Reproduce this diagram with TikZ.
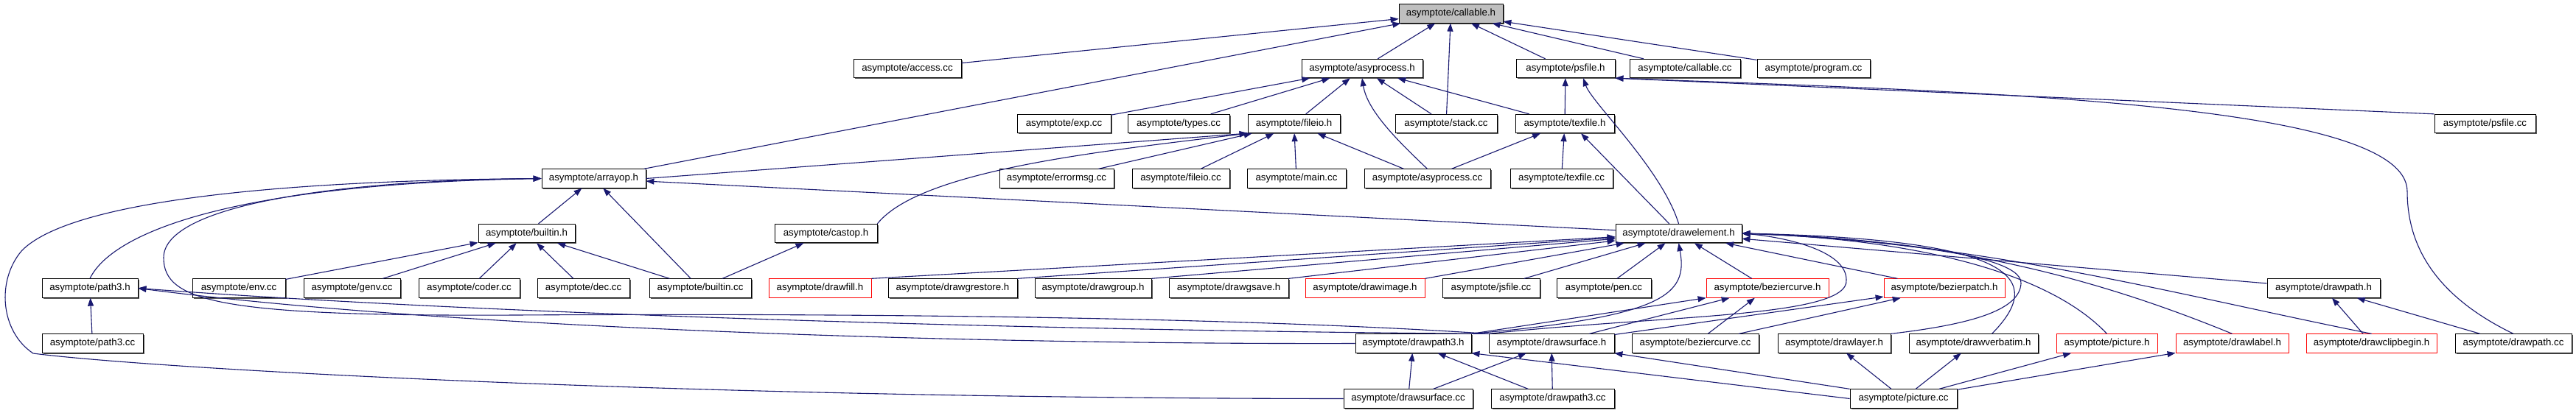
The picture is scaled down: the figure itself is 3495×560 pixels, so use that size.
\documentclass[tikz,border=0pt]{standalone}
\usepackage{fontspec}
\setmainfont{Liberation Sans}
\usetikzlibrary{arrows.meta,shadows}
\definecolor{edgeblue}{HTML}{191970}
\definecolor{rootgray}{HTML}{BFBFBF}

\begin{document}
\begin{tikzpicture}[x=1pt, y=-1pt, >={Triangle[length=11pt,width=8pt]},
    filebox/.style={draw=black, line width=0.8pt, fill=white, inner sep=0pt, minimum height=25.5pt,
      font=\fontsize{13.3}{16}\selectfont,
      drop shadow={shadow xshift=1.6pt, shadow yshift=-1.6pt, fill=black!65, opacity=1}},
    rootbox/.style={filebox, fill=rootgray},
    cutbox/.style={draw=red, line width=0.8pt, fill=white, inner sep=0pt, minimum height=25.5pt,
      font=\fontsize{13.3}{16}\selectfont},
    incl/.style={->, draw=edgeblue, line width=1.1pt}]

    \fill[white] (0,0) rectangle (3495,560);
    \useasboundingbox (0,0) rectangle (3495,560);

    % row 1
    \node[rootbox, minimum width=141pt] (callableh) at (1968.5,18.5) {asymptote/callable.h};

    % row 2
    \node[filebox, minimum width=146pt] (accesscc) at (1231,93) {asymptote/access.cc};
    \node[filebox, minimum width=164pt] (asyprocessh) at (1848,93) {asymptote/asyprocess.h};
    \node[filebox, minimum width=134pt] (psfileh) at (2124,93) {asymptote/psfile.h};
    \node[filebox, minimum width=150pt] (callablecc) at (2286,93) {asymptote/callable.cc};
    \node[filebox, minimum width=153pt] (programcc) at (2460.5,93) {asymptote/program.cc};

    % row 3
    \node[filebox, minimum width=127pt] (expcc) at (1443.5,168) {asymptote/exp.cc};
    \node[filebox, minimum width=138pt] (typescc) at (1599,168) {asymptote/types.cc};
    \node[filebox, minimum width=125pt] (fileioh) at (1755.5,168) {asymptote/fileio.h};
    \node[filebox, minimum width=138pt] (stackcc) at (1962,168) {asymptote/stack.cc};
    \node[filebox, minimum width=134pt] (texfileh) at (2123,168) {asymptote/texfile.h};
    \node[filebox, minimum width=137pt] (psfilecc) at (3371.5,168) {asymptote/psfile.cc};

    % row 4
    \node[filebox, minimum width=141pt] (arrayoph) at (805.5,242.5) {asymptote/arrayop.h};
    \node[filebox, minimum width=155pt] (errormsgcc) at (1433.5,242.5) {asymptote/errormsg.cc};
    \node[filebox, minimum width=132pt] (fileiocc) at (1602,242.5) {asymptote/fileio.cc};
    \node[filebox, minimum width=134pt] (maincc) at (1759,242.5) {asymptote/main.cc};
    \node[filebox, minimum width=171pt] (asyprocesscc) at (1936.5,242.5) {asymptote/asyprocess.cc};
    \node[filebox, minimum width=139pt] (texfilecc) at (2118.5,242.5) {asymptote/texfile.cc};

    % row 5
    \node[filebox, minimum width=131pt] (builtinh) at (714.5,317) {asymptote/builtin.h};
    \node[filebox, minimum width=139pt] (castoph) at (1120.5,317) {asymptote/castop.h};
    \node[filebox, minimum width=171pt] (drawelementh) at (2277.5,317) {asymptote/drawelement.h};

    % row 6
    \node[filebox, minimum width=130pt] (path3h) at (122,391.5) {asymptote/path3.h};
    \node[filebox, minimum width=126pt] (envcc) at (324,391.5) {asymptote/env.cc};
    \node[filebox, minimum width=131pt] (genvcc) at (477.5,391.5) {asymptote/genv.cc};
    \node[filebox, minimum width=137pt] (codercc) at (636.5,391.5) {asymptote/coder.cc};
    \node[filebox, minimum width=125pt] (deccc) at (791.5,391.5) {asymptote/dec.cc};
    \node[filebox, minimum width=138pt] (builtincc) at (950,391.5) {asymptote/builtin.cc};
    \node[cutbox, minimum width=139pt] (drawfillh) at (1112.5,391.5) {asymptote/drawfill.h};
    \node[filebox, minimum width=175pt] (drawgrestoreh) at (1292.5,391.5) {asymptote/drawgrestore.h};
    \node[filebox, minimum width=158pt] (drawgrouph) at (1483,391.5) {asymptote/drawgroup.h};
    \node[filebox, minimum width=162pt] (drawgsaveh) at (1667,391.5) {asymptote/drawgsave.h};
    \node[cutbox, minimum width=162pt] (drawimageh) at (1852,391.5) {asymptote/drawimage.h};
    \node[filebox, minimum width=132pt] (jsfilecc) at (2023,391.5) {asymptote/jsfile.cc};
    \node[filebox, minimum width=128pt] (pencc) at (2176,391.5) {asymptote/pen.cc};
    \node[cutbox, minimum width=166pt] (beziercurveh) at (2398,391.5) {asymptote/beziercurve.h};
    \node[cutbox, minimum width=164pt] (bezierpatchh) at (2638,391.5) {asymptote/bezierpatch.h};
    \node[filebox, minimum width=153pt] (drawpathh) at (3152.5,391.5) {asymptote/drawpath.h};

    % row 7
    \node[filebox, minimum width=137pt] (path3cc) at (125.5,466.5) {asymptote/path3.cc};
    \node[filebox, minimum width=157pt] (drawpath3h) at (1917.5,466.5) {asymptote/drawpath3.h};
    \node[filebox, minimum width=170pt] (drawsurfaceh) at (2105,466.5) {asymptote/drawsurface.h};
    \node[filebox, minimum width=172pt] (beziercurvecc) at (2300,466.5) {asymptote/beziercurve.cc};
    \node[filebox, minimum width=153pt] (drawlayerh) at (2488.5,466.5) {asymptote/drawlayer.h};
    \node[filebox, minimum width=175pt] (drawverbatimh) at (2677.5,466.5) {asymptote/drawverbatim.h};
    \node[cutbox, minimum width=137pt] (pictureh) at (2858.5,466.5) {asymptote/picture.h};
    \node[cutbox, minimum width=153pt] (drawlabelh) at (3028.5,466.5) {asymptote/drawlabel.h};
    \node[cutbox, minimum width=177pt] (drawclipbeginh) at (3217.5,466.5) {asymptote/drawclipbegin.h};
    \node[filebox, minimum width=158pt] (drawpathcc) at (3410,466.5) {asymptote/drawpath.cc};

    % row 8
    \node[filebox, minimum width=175pt] (drawsurfacecc) at (1910.5,541.5) {asymptote/drawsurface.cc};
    \node[filebox, minimum width=167pt] (drawpath3cc) at (2106.5,541.5) {asymptote/drawpath3.cc};
    \node[filebox, minimum width=145pt] (picturecc) at (2582.5,541.5) {asymptote/picture.cc};

    % into callable.h
    \draw[incl] (accesscc) -- (callableh);
    \draw[incl] (arrayoph) -- (callableh);
    \draw[incl] (asyprocessh) -- (callableh);
    \draw[incl] (stackcc) -- (callableh);
    \draw[incl] (psfileh) -- (callableh);
    \draw[incl] (callablecc) -- (callableh);
    \draw[incl] (programcc) -- (callableh);

    % into asyprocess.h
    \draw[incl] (expcc) -- (asyprocessh);
    \draw[incl] (typescc) -- (asyprocessh);
    \draw[incl] (fileioh) -- (asyprocessh);
    \draw[incl] (stackcc) -- (asyprocessh);
    \draw[incl] (texfileh) -- (asyprocessh);
    \draw[incl] (asyprocesscc.north) .. controls (1895,190) and (1855,150) .. (asyprocessh.south);

    % into psfile.h
    \draw[incl] (texfileh) -- (psfileh);
    \draw[incl] (drawelementh.north) .. controls (2255,230) and (2160,140) .. ([xshift=24pt]psfileh.south);
    \draw[incl] (psfilecc.north west) -- (psfileh.south east);
    \draw[incl] (drawpathcc.north) .. controls (3300,400) and (3266,330) .. (3266,260)
      .. controls (3266,140) and (2700,125) .. (psfileh.south east);

    % into texfile.h
    \draw[incl] (asyprocesscc) -- (texfileh);
    \draw[incl] (texfilecc) -- (texfileh);
    \draw[incl] (drawelementh) -- ([xshift=22pt]texfileh.south);

    % into fileio.h
    \draw[incl] (arrayoph.east) -- (fileioh.south west);
    \draw[incl] (castoph.north east) .. controls (1250,230) and (1500,205) .. (fileioh.south west);
    \draw[incl] (errormsgcc) -- (fileioh);
    \draw[incl] (fileiocc) -- (fileioh);
    \draw[incl] (maincc) -- (fileioh);
    \draw[incl] (asyprocesscc) -- (fileioh);

    % into arrayop.h
    \draw[incl] (builtinh) -- (arrayoph);
    \draw[incl] (builtincc) -- (arrayoph);
    \draw[incl] (drawelementh) -- (arrayoph);
    \draw[incl] (path3h.north) .. controls (150,320) and (300,250) .. (arrayoph.west);
    \draw[incl] (drawsurfacecc.west) .. controls (900,541) and (200,500) .. (45,480)
      .. controls (0,450) and (-5,380) .. (30,340)
      .. controls (100,270) and (400,245) .. (arrayoph.west);
    \draw[incl] (drawsurfaceh.north west) .. controls (1700,432) and (1200,425) .. (700,428)
      .. controls (300,430) and (222,410) .. (222,350)
      .. controls (222,280) and (450,245) .. (arrayoph.west);

    % into builtin.h and castop.h
    \draw[incl] (envcc) -- (builtinh);
    \draw[incl] (genvcc) -- (builtinh);
    \draw[incl] (codercc) -- (builtinh);
    \draw[incl] (deccc) -- (builtinh);
    \draw[incl] (builtincc) -- (builtinh);
    \draw[incl] (builtincc) -- (castoph);

    % into path3.h
    \draw[incl] (path3cc) -- (path3h);
    \draw[incl] (drawpath3h.west) .. controls (1300,468) and (600,445) .. (path3h.east);
    \draw[incl] (drawsurfaceh.north west) .. controls (1500,450) and (700,430) .. (path3h.east);

    % into drawelement.h
    \draw[incl] (drawfillh.north east) -- (drawelementh);
    \draw[incl] (drawgrestoreh.north east) -- (drawelementh);
    \draw[incl] (drawgrouph.north east) -- (drawelementh);
    \draw[incl] (drawgsaveh.north east) -- (drawelementh);
    \draw[incl] (drawimageh.north east) -- (drawelementh);
    \draw[incl] (jsfilecc) -- (drawelementh);
    \draw[incl] (pencc) -- (drawelementh);
    \draw[incl] (beziercurveh) -- (drawelementh);
    \draw[incl] (bezierpatchh) -- (drawelementh);
    \draw[incl] (drawpathh) -- (drawelementh);
    \draw[incl] (drawpath3h.north east) .. controls (2260,430) and (2290,400) .. (drawelementh.south);
    \draw[incl] (drawsurfaceh.north west) .. controls (2250,428) and (2510,432) .. (2505,380)
      .. controls (2505,340) and (2420,322) .. (drawelementh.east);
    \draw[incl] (drawlayerh.north east) .. controls (2680,440) and (2740,420) .. (2742,385)
      .. controls (2745,340) and (2500,322) .. (drawelementh.east);
    \draw[incl] ([xshift=25pt]drawverbatimh.north) .. controls (2775,380) and (2740,325) .. (drawelementh.east);
    \draw[incl] (pictureh.north) .. controls (2780,370) and (2600,325) .. (drawelementh.east);
    \draw[incl] (drawlabelh.north) .. controls (2850,380) and (2650,325) .. (drawelementh.east);
    \draw[incl] (drawclipbeginh.north) .. controls (2950,400) and (2700,330) .. (drawelementh.east);

    % into beziercurve.h and bezierpatch.h
    \draw[incl] (drawpath3h.north east) -- (beziercurveh.south west);
    \draw[incl] (drawsurfaceh) -- (beziercurveh);
    \draw[incl] (beziercurvecc) -- (beziercurveh);
    \draw[incl] (drawsurfaceh) -- (bezierpatchh);
    \draw[incl] (beziercurvecc) -- (bezierpatchh);

    % into drawpath.h
    \draw[incl] (drawclipbeginh) -- (drawpathh);
    \draw[incl] (drawpathcc) -- (drawpathh);

    % into drawpath3.h and drawsurface.h
    \draw[incl] (drawsurfacecc) -- (drawpath3h);
    \draw[incl] (drawsurfacecc) -- (drawsurfaceh);
    \draw[incl] (drawpath3cc) -- (drawpath3h);
    \draw[incl] (drawpath3cc) -- (drawsurfaceh);
    \draw[incl] (picturecc.west) -- (drawpath3h.south east);
    \draw[incl] (picturecc.north west) -- (drawsurfaceh.south east);

    % into row 7 from picture.cc
    \draw[incl] (picturecc) -- (drawlayerh);
    \draw[incl] (picturecc) -- (drawverbatimh);
    \draw[incl] (picturecc) -- (pictureh);
    \draw[incl] (picturecc) -- (drawlabelh);
  \end{tikzpicture}
\end{document}
